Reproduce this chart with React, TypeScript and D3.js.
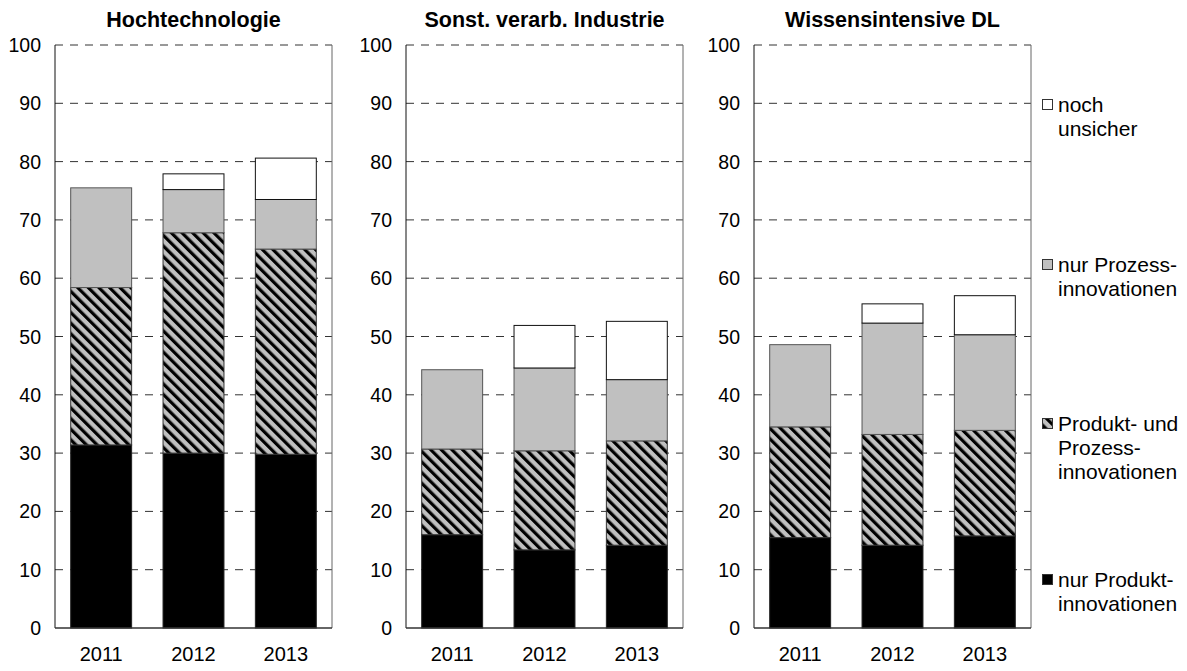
import React from "react";
import * as d3 from "d3";

const years = ["2011", "2012", "2013"];
const panelTitles = ["Hochtechnologie", "Sonst. verarb. Industrie", "Wissensintensive DL"];
const yTicks = [0, 10, 20, 30, 40, 50, 60, 70, 80, 90, 100];

// segment values per panel (bottom to top)
const nurProdukt = [
  [31.4, 30.0, 29.8],
  [16.0, 13.4, 14.2],
  [15.5, 14.2, 15.8],
];
const produktUndProzess = [
  [27.0, 37.8, 35.2],
  [14.7, 17.0, 17.9],
  [19.0, 19.0, 18.1],
];
const nurProzess = [
  [17.1, 7.4, 8.5],
  [13.6, 14.2, 10.5],
  [14.1, 19.1, 16.4],
];
const nochUnsicher = [
  [0, 2.7, 7.1],
  [0, 7.3, 10.0],
  [0, 3.3, 6.7],
];

const seriesKeys = ["nurProdukt", "produktUndProzess", "nurProzess", "nochUnsicher"];
const legendLabels = [
  ["noch", "unsicher"],
  ["nur Prozess-", "innovationen"],
  ["Produkt- und", "Prozess-", "innovationen"],
  ["nur Produkt-", "innovationen"],
];
const legendKeys = ["nochUnsicher", "nurProzess", "produktUndProzess", "nurProdukt"];

const fills: Record<string, string> = {
  nurProdukt: "#000000",
  produktUndProzess: "url(#hatch)",
  nurProzess: "#c0c0c0",
  nochUnsicher: "#ffffff",
};
const strokes: Record<string, string> = {
  nurProdukt: "#222",
  produktUndProzess: "#333",
  nurProzess: "#555",
  nochUnsicher: "#111",
};

const panelLefts = [55, 406, 754];
const panelWidth = 277;
const top = 45;
const bottom = 628;
const font = "'Liberation Sans', Arial, sans-serif";

export default function App() {
  const y = d3.scaleLinear().domain([0, 100]).range([bottom, top]);
  return (
    <svg width={1187} height={671} style={{ position: "absolute", left: 0, top: 0, background: "#fff" }} fontFamily={font}>
      <defs>
        <pattern id="hatch" width={7.5} height={7.5} patternUnits="userSpaceOnUse" patternTransform="rotate(-45)">
          <rect width={7.5} height={7.5} fill="#c0c0c0" />
          <rect x={0} y={0} width={3.2} height={7.5} fill="#000" />
        </pattern>
      </defs>
      {panelTitles.map((title, p) => {
        const x0 = panelLefts[p];
        const x = d3.scaleBand().domain(years).range([x0, x0 + panelWidth]).paddingInner(0.34).paddingOuter(0.17);
        const rows = years.map((yr, i) => ({
          year: yr,
          nurProdukt: nurProdukt[p][i],
          produktUndProzess: produktUndProzess[p][i],
          nurProzess: nurProzess[p][i],
          nochUnsicher: nochUnsicher[p][i],
        }));
        const stacked = d3.stack<any>().keys(seriesKeys)(rows);
        return (
          <g key={title}>
            <text x={x0 + panelWidth / 2} y={27} textAnchor="middle" fontWeight="bold" fontSize={21.5}>
              {title}
            </text>
            {yTicks.map((t) => (
              <g key={t}>
                {t > 0 && (
                  <line x1={x0} x2={x0 + panelWidth} y1={y(t)} y2={y(t)} stroke="#333" strokeDasharray="8,7" strokeWidth={1} />
                )}
                <text x={x0 - 14} y={y(t)} dy="0.36em" textAnchor="end" fontSize={19.5}>
                  {t}
                </text>
              </g>
            ))}
            {stacked.map((s) =>
              s.map((d, i) => {
                const h = y(d[0]) - y(d[1]);
                if (h <= 0.01) return null;
                return (
                  <rect
                    key={s.key + i}
                    x={x(years[i])}
                    y={y(d[1])}
                    width={x.bandwidth()}
                    height={h}
                    fill={fills[s.key]}
                    stroke={strokes[s.key]}
                    strokeWidth={1}
                  />
                );
              })
            )}
            <line x1={x0} x2={x0} y1={top} y2={bottom} stroke="#111" />
            <line x1={x0 + panelWidth} x2={x0 + panelWidth} y1={top} y2={bottom} stroke="#666" />
            <line x1={x0} x2={x0 + panelWidth} y1={bottom} y2={bottom} stroke="#333" strokeWidth={1.5} />
            {years.map((yr) => (
              <text key={yr} x={(x(yr) as number) + x.bandwidth() / 2} y={661} textAnchor="middle" fontSize={20}>
                {yr}
              </text>
            ))}
          </g>
        );
      })}
      {legendKeys.map((k, i) => {
        const baseY = [112, 272, 431, 587][i];
        return (
          <g key={k}>
            <rect x={1042.5} y={baseY - 12.5} width={10} height={10} fill={fills[k]} stroke="#333" strokeWidth={1} />
            {legendLabels[i].map((line, j) => (
              <text key={j} x={1058} y={baseY + j * 24} fontSize={21}>
                {line}
              </text>
            ))}
          </g>
        );
      })}
    </svg>
  );
}
